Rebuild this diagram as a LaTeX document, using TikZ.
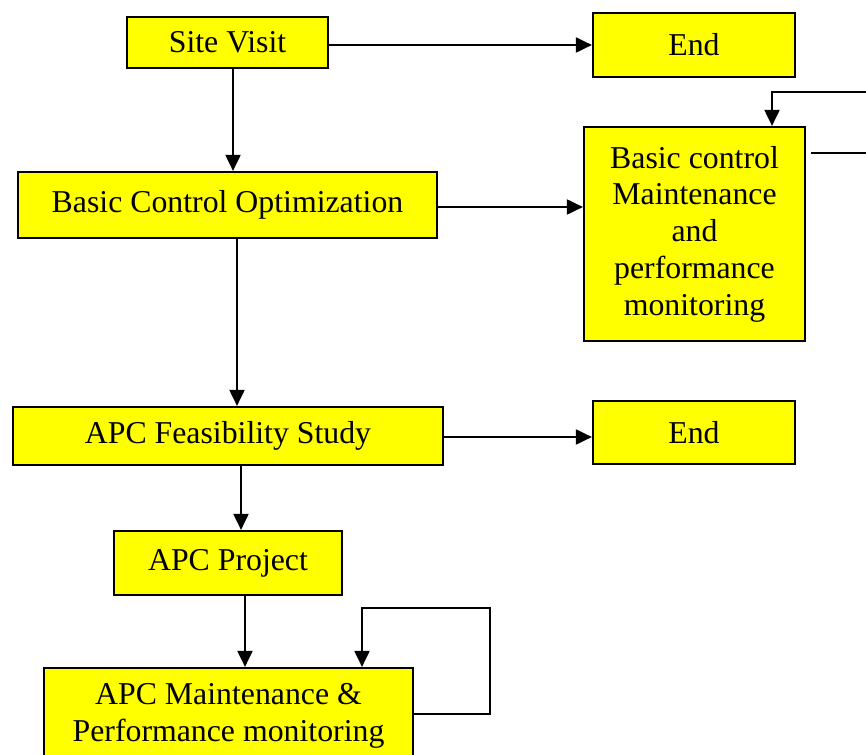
\documentclass[tikz,border=0pt]{standalone}
\usepackage{fontspec}
\setmainfont{Liberation Serif}
\usetikzlibrary{arrows.meta,positioning,calc}
\definecolor{fledge}{RGB}{0,0,0}
\definecolor{flfill}{RGB}{255,255,0}
\tikzset{
  flbox/.style={
    draw=fledge, fill=flfill, line width=1.1pt, align=center,
    inner sep=0pt, font=\fontsize{15.9}{18.4}\selectfont
  },
  arr/.style={-{Triangle[length=8pt,width=7.5pt]}, draw=fledge, line width=1pt},
  ln/.style={draw=fledge, line width=1pt}
}
\begin{document}
\begin{tikzpicture}[x=0.5pt, y=-0.5pt]
  \clip (0,0) rectangle (866,754);
  \fill[white] (0,0) rectangle (866,754);
  % left column
  \node[flbox, minimum width=100.5pt, minimum height=25.5pt] (site) at (227.5,42.5) {\raisebox{-2pt}{Site Visit}};
  \node[flbox, minimum width=209.5pt, minimum height=33pt] (bco) at (227.5,205) {Basic Control Optimization};
  \node[flbox, minimum width=215pt, minimum height=29pt] (feas) at (228,436) {APC Feasibility Study};
  \node[flbox, minimum width=114pt, minimum height=32pt] (proj) at (228,563) {APC Project};
  \node[flbox, minimum width=184.5pt, minimum height=48pt] (apcm) at (228.5,716)
    {APC Maintenance \&\\Performance monitoring};
  % right column
  \node[flbox, minimum width=101pt, minimum height=32pt] (endA) at (694,45) {End};
  \node[flbox, minimum width=110.5pt, minimum height=107pt] (bcm) at (694.5,234)
    {Basic control\\Maintenance\\and\\performance\\monitoring};
  \node[flbox, minimum width=101pt, minimum height=31.5pt] (endB) at (694,432.5) {End};
  % connectors
  \draw[arr] (site.east |- endA.west) -- (endA.west);
  \draw[arr] (233,0 |- site.south) -- (233,0 |- bco.north);
  \draw[arr] (bco.east |- 0,207) -- (bcm.west |- 0,207);
  \draw[arr] (237,0 |- bco.south) -- (237,0 |- feas.north);
  \draw[arr] (feas.east |- 0,437) -- (endB.west |- 0,437);
  \draw[arr] (241,0 |- feas.south) -- (241,0 |- proj.north);
  \draw[arr] (245,0 |- proj.south) -- (245,0 |- apcm.north);
  % loops
  \draw[arr] (apcm.east |- 0,714) -- (490,714) -- (490,608) -- (362,608) -- (362,0 |- apcm.north);
  \draw[arr] ([xshift=2.5pt]bcm.east |- 0,153) -- (890,153) -- (890,92) -- (772,92) -- (772,0 |- bcm.north);
\end{tikzpicture}
\end{document}
